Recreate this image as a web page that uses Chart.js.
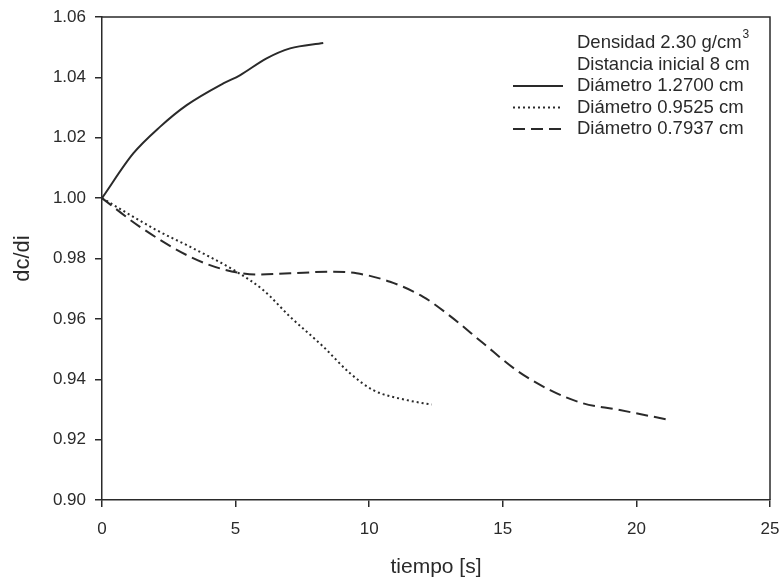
<!DOCTYPE html>
<html>
<head>
<meta charset="utf-8">
<script src="https://cdn.jsdelivr.net/npm/chart.js@4"></script>
<style>
  html, body { margin: 0; padding: 0; background: #fff; }
  #wrap { width: 784px; height: 581px; }
</style>
</head>
<body>
<div id="wrap"><canvas id="c" width="784" height="581"></canvas></div>
<script>
// Werte (tiempo [s] vs dc/di)
const t1 = [0, 1.17, 2.17, 3.17, 4.54, 5.16, 6.16, 7.04, 8.28];
const d1 = [1.000, 1.0148, 1.0236, 1.0308, 1.0380, 1.0407, 1.0463, 1.0496, 1.0514];

const t2 = [0, 2.04, 3.29, 5.04, 6.04, 7.04, 8.28, 9.28, 10.15, 11.4, 12.34];
const d2 = [1.000, 0.9894, 0.9839, 0.9756, 0.9695, 0.9607, 0.9508, 0.9420, 0.9364, 0.9331, 0.9316];

const t3 = [0, 1.42, 3.29, 4.54, 5.79, 7.04, 8.53, 9.53, 10.78, 12.02, 13.02, 14.27, 15.51, 16.77, 18.01, 19.26, 21.13];
const d3 = [1.000, 0.9905, 0.9806, 0.9764, 0.9747, 0.9751, 0.9756, 0.9751, 0.9723, 0.9673, 0.9610, 0.9519, 0.9430, 0.9364, 0.9320, 0.9300, 0.9267];

const seriesLabels = ['Diámetro 1.2700 cm', 'Diámetro 0.9525 cm', 'Diámetro 0.7937 cm'];
const seriesDash = [[], [2, 3], [12, 6]];
const legendHeader = ['Densidad 2.30 g/cm', 'Distancia inicial 8 cm'];

const ink = '#2a2a2a';
const fontFam = '"Liberation Sans", Arial, sans-serif';

function pts(xs, ys) {
  return xs.map((x, i) => ({ x, y: ys[i] }));
}

// Rahmen oben/rechts + Legende im Diagramm
const framePlugin = {
  id: 'frame',
  afterDraw(chart) {
    const { ctx, chartArea: a } = chart;
    ctx.save();
    ctx.strokeStyle = ink;
    ctx.lineWidth = 1.5;
    ctx.beginPath();
    ctx.moveTo(a.left, a.top);
    ctx.lineTo(a.right, a.top);
    ctx.lineTo(a.right, a.bottom);
    ctx.stroke();

    // Legende
    const tx = a.left + 475;
    const rowH = 21.5;
    let ty = a.top + 26;
    ctx.fillStyle = ink;
    ctx.font = '18.5px ' + fontFam;
    ctx.textBaseline = 'middle';
    ctx.textAlign = 'left';
    ctx.fillText(legendHeader[0], tx, ty);
    const w = ctx.measureText(legendHeader[0]).width;
    ctx.font = '12px ' + fontFam;
    ctx.fillText('3', tx + w + 1, ty - 8);
    ctx.font = '18.5px ' + fontFam;
    ty += rowH;
    ctx.fillText(legendHeader[1], tx, ty);
    ty += rowH;
    seriesLabels.forEach((lab, i) => {
      ctx.beginPath();
      ctx.setLineDash(seriesDash[i]);
      ctx.lineWidth = 2;
      ctx.moveTo(tx - 64, ty);
      ctx.lineTo(tx - 14, ty);
      ctx.stroke();
      ctx.setLineDash([]);
      ctx.fillText(lab, tx, ty);
      ty += rowH;
    });
    ctx.restore();
  }
};

const mkSet = (label, data, dash) => ({
  label,
  data,
  borderColor: ink,
  borderWidth: 2,
  borderDash: dash,
  pointRadius: 0,
  showLine: true,
  fill: false,
  cubicInterpolationMode: 'monotone',
});

new Chart(document.getElementById('c').getContext('2d'), {
  type: 'scatter',
  data: {
    datasets: [
      mkSet(seriesLabels[0], pts(t1, d1), seriesDash[0]),
      mkSet(seriesLabels[1], pts(t2, d2), seriesDash[1]),
      mkSet(seriesLabels[2], pts(t3, d3), seriesDash[2]),
    ]
  },
  options: {
    responsive: false,
    animation: false,
    layout: { padding: { top: 17, right: 14, left: 0, bottom: 0 } },
    plugins: { legend: { display: false }, tooltip: { enabled: false } },
    scales: {
      x: {
        type: 'linear',
        min: 0, max: 25,
        ticks: { stepSize: 5, color: ink, font: { size: 17, family: fontFam }, padding: 12 },
        grid: { drawOnChartArea: false, drawTicks: true, tickLength: 7, color: ink, lineWidth: 1.5 },
        border: { color: ink, width: 1.5 },
        title: { display: true, text: 'tiempo [s]', color: ink, font: { size: 21, family: fontFam }, padding: { top: 0, bottom: 1 } },
        afterFit(s) { s.height = 81; s.paddingLeft = 0; s.paddingRight = 0; }
      },
      y: {
        min: 0.90, max: 1.06,
        ticks: { stepSize: 0.02, color: ink, font: { size: 17, family: fontFam }, padding: 9,
                 callback: v => v.toFixed(2) },
        grid: { drawOnChartArea: false, drawTicks: true, tickLength: 7, color: ink, lineWidth: 1.5 },
        border: { color: ink, width: 1.5 },
        title: { display: true, text: 'dc/di', color: ink, font: { size: 22, family: fontFam }, padding: { top: 10, bottom: 0 } },
        afterFit(s) { s.width = 102; s.paddingTop = 0; s.paddingBottom = 0; }
      }
    }
  },
  plugins: [framePlugin]
});
</script>
</body>
</html>
